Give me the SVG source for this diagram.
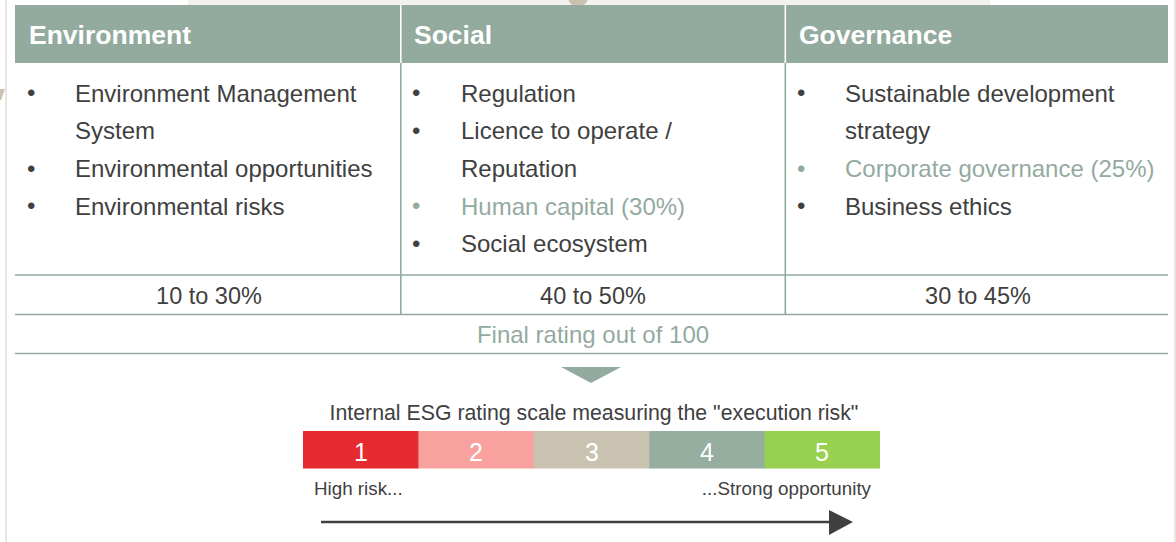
<svg xmlns="http://www.w3.org/2000/svg" width="1176" height="542" viewBox="0 0 1176 542">
<style>
  text { font-family: "Liberation Sans", Arial, sans-serif; }
  .hd { font-size: 26.5px; font-weight: bold; fill: #ffffff; }
  .it { font-size: 24px; fill: #404040; }
  .hl { fill: #93aa9f; }
  .pc { font-size: 23.5px; fill: #404040; text-anchor: middle; }
  .grid { stroke: #93aa9f; stroke-width: 1.6; fill: none; }
  .num { font-size: 25px; fill: #ffffff; text-anchor: middle; }
  .sm { font-size: 18.8px; fill: #404040; }
</style>
<rect width="1176" height="542" fill="#ffffff"/>
<g id="decor">
  <rect x="188" y="0" width="802" height="6" fill="#f3f2ef"/>
  <circle cx="578" cy="-3" r="10" fill="#c9c2b1"/>
  <rect x="5" y="0" width="2" height="542" fill="#e8e5de"/>
  <rect x="1174" y="0" width="2" height="542" fill="#e8e5de"/>
  <polygon points="0,89 5,89 1,100 0,100" fill="#c9c2b1"/>
</g>
<g id="header">
  <rect x="15" y="5" width="1153" height="58" fill="#93aa9f"/>
  <rect x="400" y="5" width="1.6" height="58" fill="#ffffff"/>
  <rect x="784.5" y="5" width="1.6" height="58" fill="#ffffff"/>
  <text class="hd" x="29" y="44">Environment</text>
  <text class="hd" x="414" y="44">Social</text>
  <text class="hd" x="799" y="44">Governance</text>
</g>
<g id="grid">
  <line class="grid" x1="400.8" y1="63" x2="400.8" y2="314"/>
  <line class="grid" x1="785.3" y1="63" x2="785.3" y2="314"/>
  <line class="grid" x1="15" y1="275" x2="1168" y2="275"/>
  <line class="grid" x1="15" y1="314.5" x2="1168" y2="314.5"/>
  <line class="grid" x1="15" y1="353.5" x2="1168" y2="353.5"/>
</g>
<g id="environment">
  <text class="it" x="27" y="101">•</text>
  <text class="it" x="75" y="101.5">Environment Management</text>
  <text class="it" x="75" y="139.2">System</text>
  <text class="it" x="27" y="176.5">•</text>
  <text class="it" x="75" y="176.9">Environmental opportunities</text>
  <text class="it" x="27" y="214">•</text>
  <text class="it" x="75" y="214.6">Environmental risks</text>
</g>
<g id="social">
  <text class="it" x="412" y="101">•</text>
  <text class="it" x="461" y="101.5">Regulation</text>
  <text class="it" x="412" y="139">•</text>
  <text class="it" x="461" y="139.2">Licence to operate /</text>
  <text class="it" x="461" y="176.9">Reputation</text>
  <text class="it hl" x="412" y="214">•</text>
  <text class="it hl" x="461" y="214.6">Human capital (30%)</text>
  <text class="it" x="412" y="252">•</text>
  <text class="it" x="461" y="252.3">Social ecosystem</text>
</g>
<g id="governance">
  <text class="it" x="797" y="101">•</text>
  <text class="it" x="845" y="101.5">Sustainable development</text>
  <text class="it" x="845" y="139.2">strategy</text>
  <text class="it hl" x="797" y="176.5">•</text>
  <text class="it hl" x="845" y="176.9">Corporate governance (25%)</text>
  <text class="it" x="797" y="214">•</text>
  <text class="it" x="845" y="214.6">Business ethics</text>
</g>
<g id="weights">
  <text class="pc" x="209" y="304">10 to 30%</text>
  <text class="pc" x="593" y="304">40 to 50%</text>
  <text class="pc" x="978" y="304">30 to 45%</text>
  <text class="pc" x="593" y="343" style="fill:#93aa9f;font-size:24px">Final rating out of 100</text>
</g>
<g id="connectors">
  <polygon points="561,367 621,367 591,383" fill="#93aa9f"/>
  <line x1="321" y1="522" x2="831" y2="522" stroke="#404040" stroke-width="2.5"/>
  <polygon points="829,510 853,522 829,535" fill="#404040"/>
</g>
<g id="scale">
  <text x="594" y="420" font-size="21.3" fill="#404040" text-anchor="middle">Internal ESG rating scale measuring the "execution risk"</text>
  <rect x="303" y="431" width="116" height="37.5" fill="#e52a30"/>
  <rect x="418.4" y="431" width="116" height="37.5" fill="#f8a19f"/>
  <rect x="533.8" y="431" width="116" height="37.5" fill="#c9c2b1"/>
  <rect x="649.2" y="431" width="116" height="37.5" fill="#95ae9f"/>
  <rect x="764.6" y="431" width="115.4" height="37.5" fill="#98d050"/>
  <text class="num" x="361" y="461">1</text>
  <text class="num" x="476" y="461">2</text>
  <text class="num" x="592" y="461">3</text>
  <text class="num" x="707" y="461">4</text>
  <text class="num" x="822" y="461">5</text>
  <text class="sm" x="314" y="495">High risk...</text>
  <text class="sm" x="871" y="495" text-anchor="end">...Strong opportunity</text>
</g>
</svg>
